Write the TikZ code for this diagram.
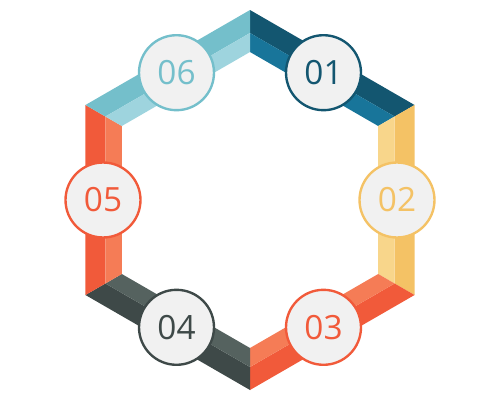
\documentclass[tikz,border=0pt]{standalone}
\usepackage{fontspec}
\setmainfont{Open Sans}
\usepackage{tikz}
\usetikzlibrary{positioning,calc}
\definecolor{navyD}{HTML}{135670}
\definecolor{navyL}{HTML}{18759A}
\definecolor{sunD}{HTML}{F4C265}
\definecolor{sunL}{HTML}{F8D68B}
\definecolor{coralD}{HTML}{F15A3A}
\definecolor{coralL}{HTML}{F57C56}
\definecolor{slateD}{HTML}{3E4948}
\definecolor{slateL}{HTML}{55625F}
\definecolor{tealD}{HTML}{74BFCB}
\definecolor{tealL}{HTML}{9ED4DE}
\definecolor{disc}{HTML}{F1F1F1}
\tikzset{
  badge/.style={circle,draw=#1,fill=disc,line width=1.35pt,minimum size=1.5cm,
    inner sep=0pt,text=#1,font=\fontsize{19}{22}\selectfont},
}

\begin{document}
\begin{tikzpicture}[x=0.02cm,y=0.02cm]
\useasboundingbox (0,0) rectangle (500,400);

\begin{scope}[shift={(250,200)}]
% outer, middle and inner corners
\coordinate (o1) at (90:190);  \coordinate (m1) at (90:167);  \coordinate (i1) at (90:148);
\coordinate (o2) at (30:190);  \coordinate (m2) at (30:167);  \coordinate (i2) at (30:148);
\coordinate (o3) at (-30:190); \coordinate (m3) at (-30:167); \coordinate (i3) at (-30:148);
\coordinate (o4) at (-90:190); \coordinate (m4) at (-90:167); \coordinate (i4) at (-90:148);
\coordinate (o5) at (210:190); \coordinate (m5) at (210:167); \coordinate (i5) at (210:148);
\coordinate (o6) at (150:190); \coordinate (m6) at (150:167); \coordinate (i6) at (150:148);

% bars
\fill[navyD]  (o1) -- (o2) -- (m2) -- (m1) -- cycle;
\fill[navyL]  (m1) -- (m2) -- (i2) -- (i1) -- cycle;
\fill[sunD]   (o2) -- (o3) -- (m3) -- (m2) -- cycle;
\fill[sunL]   (m2) -- (m3) -- (i3) -- (i2) -- cycle;
\fill[coralD] (o3) -- (o4) -- (m4) -- (m3) -- cycle;
\fill[coralL] (m3) -- (m4) -- (i4) -- (i3) -- cycle;
\fill[slateD] (o4) -- (o5) -- (m5) -- (m4) -- cycle;
\fill[slateL] (m4) -- (m5) -- (i5) -- (i4) -- cycle;
\fill[coralD] (o5) -- (o6) -- (m6) -- (m5) -- cycle;
\fill[coralL] (m5) -- (m6) -- (i6) -- (i5) -- cycle;
\fill[tealD]  (o6) -- (o1) -- (m1) -- (m6) -- cycle;
\fill[tealL]  (m6) -- (m1) -- (i1) -- (i6) -- cycle;

% badges
\node[badge=navyD]  (n1) at (60:147)  {01};
\node[badge=sunD]   (n2) at (0:147)   {02};
\node[badge=coralD] (n3) at (-60:147) {03};
\node[badge=slateD] (n4) at (-120:147) {04};
\node[badge=coralD] (n5) at (180:147) {05};
\node[badge=tealD]  (n6) at (120:147) {06};
\end{scope}

\end{tikzpicture}
\end{document}
